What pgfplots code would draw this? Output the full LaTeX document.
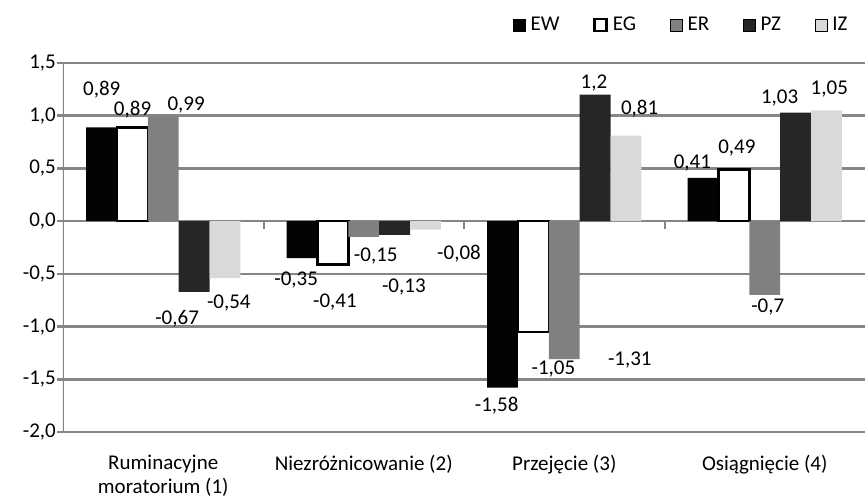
\documentclass[border=0pt]{standalone}
\usepackage{fontspec}
\setmainfont{Carlito}
\usepackage{pgfplots}
\usepackage{pgfplotstable}
\pgfplotsset{compat=1.18}

\definecolor{gridgray}{RGB}{134,134,134}
\definecolor{ewcol}{RGB}{3,3,3}
\definecolor{ercol}{RGB}{128,128,128}
\definecolor{pzcol}{RGB}{38,38,38}
\definecolor{izcol}{RGB}{217,217,217}

\pgfplotstableread{
cat EW EG ER PZ IZ
1 0.89 0.89 0.99 -0.67 -0.54
2 -0.35 -0.41 -0.15 -0.13 -0.08
3 -1.58 -1.05 -1.31 1.2 0.81
4 0.41 0.49 -0.7 1.03 1.05
}\datatable

\begin{document}
\fontsize{21}{24}\selectfont
\begin{tikzpicture}
\begin{axis}[
  scale only axis,
  width=802pt, height=369pt,
  xmin=0.5, xmax=4.5,
  ymin=-2, ymax=1.5,
  ybar=0pt, bar width=0.154,
  axis line style={draw=none},
  xtick={1,2,3,4},
  xticklabels={{Ruminacyjne\\moratorium (1)}, {Niezróżnicowanie (2)}, {Przejęcie (3)}, {Osiągnięcie (4)}},
  xticklabel style={align=center, anchor=north, yshift=-10pt},
  xtick style={draw=none},
  ytick={-2,-1.5,-1,-0.5,0,0.5,1,1.5},
  ytick pos=left,
  yticklabel style={xshift=6pt, /pgf/number format/.cd, fixed, fixed zerofill, precision=1, use comma, assume math mode=true},
  ytick style={gridgray, line width=2.5pt},
  tick align=outside,
  major tick length=6pt,
  ymajorgrids,
  major grid style={gridgray, line width=2.5pt},
  legend columns=5,
  legend style={draw=none, fill=none, at={(0.771,1.103)}, anchor=center,
    nodes={inner sep=2pt},
    /tikz/every odd column/.append style={column sep=3pt},
    /tikz/every even column/.append style={column sep=32pt}},
  legend image code/.code={\draw[#1] (0pt,-6pt) rectangle (12pt,6pt);},
]
\addplot[fill=ewcol, draw=none] table[x=cat, y=EW] {\datatable};
\addplot[fill=white, draw=black, line width=2.5pt] table[x=cat, y=EG] {\datatable};
\addplot[fill=ercol, draw=none] table[x=cat, y=ER] {\datatable};
\addplot[fill=pzcol, draw=none] table[x=cat, y=PZ] {\datatable};
\addplot[fill=izcol, draw=none] table[x=cat, y=IZ] {\datatable};
\legend{EW, EG, ER, PZ, IZ}

\draw[gridgray, line width=2.5pt] (rel axis cs:0,0) -- (rel axis cs:0,1);
\draw[gridgray, line width=2pt] (axis cs:1.5,0) -- ++(0pt,-8pt);
\draw[gridgray, line width=2pt] (axis cs:2.5,0) -- ++(0pt,-8pt);
\draw[gridgray, line width=2pt] (axis cs:3.5,0) -- ++(0pt,-8pt);

% value labels, placed as in the original
\node at (axis cs:0.693,1.248) {0,89};
\node at (axis cs:0.847,1.057) {0,89};
\node at (axis cs:1.114,1.105) {0,99};
\node at (axis cs:1.069,-0.924) {-0,67};
\node at (axis cs:1.327,-0.78) {-0,54};
\node at (axis cs:1.663,-0.562) {-0,35};
\node at (axis cs:1.856,-0.77) {-0,41};
\node at (axis cs:2.06,-0.333) {-0,15};
\node at (axis cs:2.2,-0.628) {-0,13};
\node at (axis cs:2.475,-0.31) {-0,08};
\node at (axis cs:2.663,-1.752) {-1,58};
\node at (axis cs:2.946,-1.4) {-1,05};
\node at (axis cs:3.327,-1.314) {-1,31};
\node at (axis cs:3.148,1.314) {1,2};
\node at (axis cs:3.376,1.067) {0,81};
\node at (axis cs:3.639,0.552) {0,41};
\node at (axis cs:3.861,0.695) {0,49};
\node at (axis cs:4.015,-0.819) {-0,7};
\node at (axis cs:4.074,1.171) {1,03};
\node at (axis cs:4.322,1.257) {1,05};
\end{axis}
\pgfresetboundingbox
\path[use as bounding box] (current axis.south west) ++(-63pt,-69pt) rectangle ([yshift=63pt]current axis.north east);
\end{tikzpicture}
\end{document}
